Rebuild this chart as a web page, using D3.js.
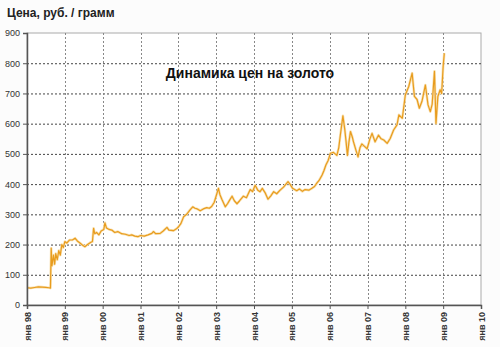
<!DOCTYPE html>
<html>
<head>
<meta charset="utf-8">
<script src="https://cdn.jsdelivr.net/npm/d3@7"></script>
<style>
  body { margin: 0; background: #fcfcfc; }
  svg { display: block; font-family: "Liberation Sans", Arial, sans-serif; }
</style>
</head>
<body>
<div id="container"></div>
<script>
/* CONSTANTS AND GLOBALS */
const width = 500,
  height = 347,
  margin = { top: 33, bottom: 42, left: 27, right: 19 };

// DATA (decimal years / rub per gram)
const years = [
  1998.00, 1998.10, 1998.20, 1998.30, 1998.40, 1998.50, 1998.58, 1998.62, 1998.64, 1998.66,
  1998.70, 1998.73, 1998.76, 1998.80, 1998.84, 1998.88, 1998.92, 1998.96, 1999.00, 1999.05,
  1999.12, 1999.20, 1999.27, 1999.33, 1999.40, 1999.47, 1999.53, 1999.60, 1999.68, 1999.73,
  1999.76, 1999.79, 1999.84, 1999.90, 1999.96, 2000.03, 2000.06, 2000.10, 2000.17, 2000.24,
  2000.32, 2000.40, 2000.50, 2000.60, 2000.70, 2000.77, 2000.85, 2000.93, 2001.00, 2001.10,
  2001.20, 2001.30, 2001.34, 2001.40, 2001.52, 2001.60, 2001.70, 2001.75, 2001.87, 2001.95,
  2002.00, 2002.07, 2002.14, 2002.22, 2002.31, 2002.38, 2002.44, 2002.50, 2002.58, 2002.66,
  2002.75, 2002.82, 2002.88, 2002.95, 2003.06, 2003.10, 2003.15, 2003.24, 2003.30, 2003.36,
  2003.42, 2003.48, 2003.55, 2003.62, 2003.72, 2003.80, 2003.90, 2003.96, 2004.03, 2004.10,
  2004.16, 2004.22, 2004.30, 2004.37, 2004.45, 2004.52, 2004.60, 2004.69, 2004.78, 2004.90,
  2004.96, 2005.02, 2005.13, 2005.20, 2005.28, 2005.35, 2005.45, 2005.53, 2005.60, 2005.66,
  2005.72, 2005.80, 2005.85, 2005.90, 2005.96, 2006.02, 2006.10, 2006.19, 2006.24, 2006.28,
  2006.35, 2006.40, 2006.43, 2006.47, 2006.51, 2006.55, 2006.60, 2006.63, 2006.70, 2006.75,
  2006.80, 2006.85, 2006.92, 2006.99, 2007.06, 2007.12, 2007.20, 2007.29, 2007.36, 2007.43,
  2007.52, 2007.60, 2007.69, 2007.78, 2007.83, 2007.92, 2008.00, 2008.09, 2008.18, 2008.24,
  2008.31, 2008.37, 2008.44, 2008.53, 2008.60, 2008.66, 2008.71, 2008.77, 2008.81, 2008.86,
  2008.92, 2008.96, 2009.00, 2009.03
];
const prices = [
  57, 56, 58, 60, 59, 58, 57, 56, 188, 130,
  165, 135, 170, 150, 180, 165, 200, 190, 210, 205,
  215, 215, 221, 212, 205, 198, 193, 200, 207, 210,
  254, 236, 240, 232, 245, 250, 272, 255, 250, 248,
  240, 243, 236, 234, 230, 232, 228, 226, 230, 228,
  232, 237, 243, 236, 237, 245, 257, 248, 246, 252,
  258, 270, 292, 300, 315, 325, 320, 318, 312, 318,
  322, 320, 326, 340, 386, 365, 350, 325, 335, 348,
  360, 345, 335, 345, 360, 355, 382, 375, 396, 380,
  375, 386, 370, 350, 362, 375, 368, 380, 390, 408,
  398, 386, 378, 384, 376, 382, 380, 386, 392, 403,
  412, 430, 445, 463, 478, 502, 505, 495, 520, 560,
  626, 580, 545, 495, 540, 574, 555, 540, 510, 490,
  520, 533, 525, 517, 548, 568, 540, 562, 550, 546,
  535, 551, 579, 596, 629, 618, 695, 723, 767, 690,
  680, 651, 674, 728, 662, 640, 665, 773, 601, 690,
  712, 700, 790, 833
];
const yearTicks = d3.range(1998, 2011);
const priceTicks = d3.range(0, 901, 100);
const chartTitle = "Динамика цен на золото";
const yTitle = "Цена, руб. / грамм";

const data = years.map((y, i) => ({ year: y, price: prices[i] }));

const svg = d3.select("#container")
  .append("svg")
  .attr("width", width)
  .attr("height", height);

// SCALES
const x = d3.scaleLinear()
  .domain([1998, 2010])
  .range([margin.left, width - margin.right]);

const y = d3.scaleLinear()
  .domain([0, 900])
  .range([height - margin.bottom, margin.top]);

// PLOT AREA
svg.append("rect")
  .attr("x", x(1998))
  .attr("y", y(900))
  .attr("width", x(2010) - x(1998))
  .attr("height", y(0) - y(900))
  .attr("fill", "#ffffff")
  .attr("stroke", "#aaaaaa");

// GRIDLINES
svg.selectAll("line.hgrid")
  .data(priceTicks.filter(d => d > 0 && d < 900))
  .join("line")
  .attr("class", "hgrid")
  .attr("x1", x(1998))
  .attr("x2", x(2010))
  .attr("y1", d => y(d) + 0.5)
  .attr("y2", d => y(d) + 0.5)
  .attr("stroke", "#444")
  .attr("stroke-dasharray", "2,2");

svg.selectAll("line.vgrid")
  .data(yearTicks.filter(d => d > 1998 && d < 2010))
  .join("line")
  .attr("class", "vgrid")
  .attr("x1", d => Math.round(x(d)) + 0.5)
  .attr("x2", d => Math.round(x(d)) + 0.5)
  .attr("y1", y(900))
  .attr("y2", y(0))
  .attr("stroke", "#888")
  .attr("stroke-dasharray", "2,2");

// LINE
const lineGen = d3.line()
  .x(d => x(d.year))
  .y(d => y(d.price));

svg.append("path")
  .datum(data)
  .attr("d", lineGen)
  .attr("fill", "none")
  .attr("stroke", "#f8e2b4")
  .attr("stroke-width", 2.6)
  .attr("stroke-linejoin", "round");

svg.append("path")
  .datum(data)
  .attr("d", lineGen)
  .attr("fill", "none")
  .attr("stroke", "#e89c1e")
  .attr("stroke-width", 1.2)
  .attr("stroke-linejoin", "round");

// AXES
const yAxis = svg.append("g")
  .attr("transform", `translate(${x(1998)},0)`)
  .call(d3.axisLeft(y).tickValues(priceTicks).tickSize(4).tickPadding(3));

const xAxis = svg.append("g")
  .attr("transform", `translate(0,${y(0)})`)
  .call(d3.axisBottom(x).tickValues(yearTicks).tickSize(4)
    .tickFormat(d => "янв " + String(d).slice(2)));

[yAxis, xAxis].forEach(g => {
  g.select(".domain").attr("stroke", "#555").attr("stroke-width", 1.5);
  g.selectAll(".tick line").attr("stroke", "#555");
  g.selectAll("text").attr("fill", "#333").attr("font-size", 9);
});

xAxis.selectAll("text")
  .attr("font-weight", "bold")
  .attr("transform", "rotate(-90)")
  .attr("text-anchor", "end")
  .attr("x", -7)
  .attr("y", 0)
  .attr("dy", "0.35em");

// TITLES
svg.append("text")
  .attr("x", 7)
  .attr("y", 17)
  .attr("font-size", 12)
  .attr("font-weight", "bold")
  .attr("fill", "#222")
  .text(yTitle);

svg.append("text")
  .attr("x", 250)
  .attr("y", 78)
  .attr("text-anchor", "middle")
  .attr("font-size", 14)
  .attr("font-weight", "bold")
  .attr("fill", "#111")
  .text(chartTitle);
</script>
</body>
</html>
